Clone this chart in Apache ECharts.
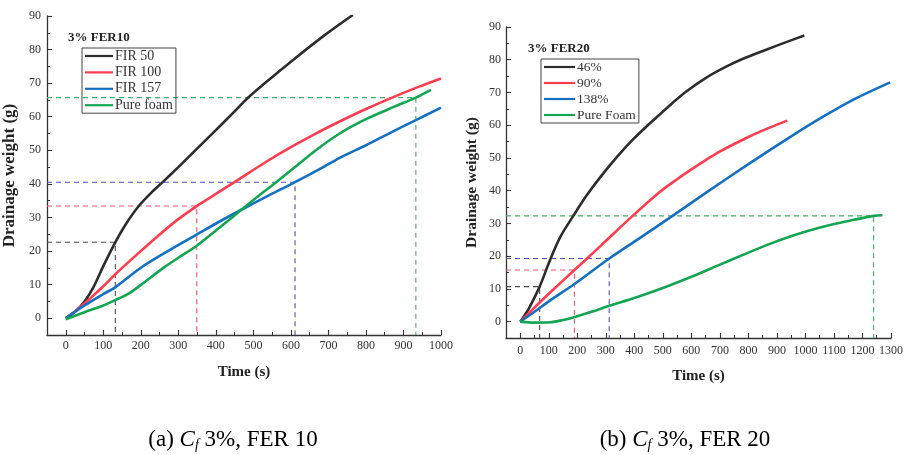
<!DOCTYPE html>
<html>
<head>
<meta charset="utf-8">
<script src="https://cdn.jsdelivr.net/npm/echarts@6/dist/echarts.min.js"></script>
<style>
  html, body { margin: 0; padding: 0; background: #fff; }
  #chart { width: 908px; height: 455px; }
</style>
</head>
<body>
<div id="chart"></div>
<script>
// ---- Panel (a): Cf 3%, FER 10 ----
const fir50Time  = [0, 25, 50, 75, 100, 132, 160, 193, 230, 259, 300, 350, 400, 450, 485, 540, 610, 690, 765];
const fir50W     = [0, 2, 5, 9.5, 15.5, 22.6, 28, 33.2, 37.6, 40.6, 45, 50.5, 56, 61.6, 65.6, 70.9, 77.3, 84.3, 90.3];
const fir100Time = [0, 30, 68, 100, 132, 200, 255, 300, 349, 400, 459, 530, 601, 670, 734, 800, 876, 940, 1000];
const fir100W    = [0, 2.5, 6.2, 9.5, 13.1, 20, 25.4, 29.5, 33.4, 37, 41.2, 46.3, 51, 55.2, 58.8, 62.3, 66, 68.9, 71.4];
const fir157Time = [0, 50, 100, 132, 201, 280, 349, 410, 468, 540, 611, 680, 734, 800, 870, 933, 1000];
const fir157W    = [0, 3.8, 7.2, 9.2, 15.1, 20.5, 24.9, 28.8, 32.3, 36.5, 40.5, 44.6, 48, 51.5, 55.5, 59, 62.7];
const foamATime  = [0, 50, 100, 132, 170, 201, 260, 300, 349, 410, 468, 520, 561, 611, 670, 734, 800, 876, 933, 973];
const foamAW     = [-0.3, 1.8, 3.8, 5.4, 7.5, 10, 15, 18, 21.6, 27, 32.3, 37, 40.5, 45, 50.3, 55.3, 59.3, 63, 65.7, 68];
const guideATime = [132, 349, 611, 933];
const guideAW    = [22.6, 33.4, 40.5, 65.7];
const namesA     = ['FIR 50', 'FIR 100', 'FIR 157', 'Pure foam'];

// ---- Panel (b): Cf 3%, FER 20 ----
const r46Time   = [0, 30, 68, 103, 140, 186, 230, 285, 340, 397, 450, 484, 530, 582, 650, 720, 781, 860, 930, 996];
const r46W      = [0, 4, 10.7, 18.5, 25.8, 32.3, 38.2, 44.6, 50.4, 55.8, 60.2, 62.9, 66.5, 70.3, 74.4, 77.8, 80.3, 83, 85.3, 87.4];
const r90Time   = [0, 50, 100, 190, 280, 394, 489, 550, 600, 699, 800, 870, 936];
const r90W      = [0, 4.3, 8.5, 15.75, 23, 32.3, 39.6, 43.5, 46.5, 51.9, 56.4, 59.1, 61.4];
const r138Time  = [0, 50, 100, 190, 312, 420, 534, 620, 699, 800, 932, 1050, 1170, 1297];
const r138W     = [0, 3, 6.2, 11.5, 19.3, 25.6, 32.3, 37.5, 42.2, 48.1, 55.6, 62, 67.9, 73.1];
const foamBTime = [0, 50, 105, 150, 186, 250, 315, 400, 495, 600, 700, 781, 880, 990, 1100, 1170, 1239, 1270];
const foamBW    = [0, -0.3, -0.2, 0.5, 1.3, 3, 4.9, 7.2, 10.1, 13.7, 17.4, 20.4, 23.9, 27.2, 29.8, 31.1, 32.3, 32.5];
const guideBTime = [68, 190, 312, 1239];
const guideBW    = [10.7, 15.75, 19.3, 32.3];
const namesB     = ['46%', '90%', '138%', 'Pure Foam'];

// ---- axis ticks ----
const xTicksA  = [0, 100, 200, 300, 400, 500, 600, 700, 800, 900, 1000];
const xMinorA  = [50, 150, 250, 350, 450, 550, 650, 750, 850, 950];
const xTicksB  = [0, 100, 200, 300, 400, 500, 600, 700, 800, 900, 1000, 1100, 1200, 1300];
const xMinorB  = [50, 150, 250, 350, 450, 550, 650, 750, 850, 950, 1050, 1150, 1250];
const yTicks   = [0, 10, 20, 30, 40, 50, 60, 70, 80, 90];
const yMinor   = [-5, 5, 15, 25, 35, 45, 55, 65, 75, 85];

const SERIF = '"Liberation Serif", "DejaVu Serif", serif';
const INK = '#333';
const lineColors  = ['#2d2d2d', '#ff3d4e', '#1470c0', '#13a652'];
const guideColors = ['#4a4a4a', '#ff4f72', '#5252ae', '#3fae66'];

const X_MIN = -50, Y_MIN = -5, Y_MAX = 90;

function pairs(t, w) { return t.map((x, i) => [x, w[i]]); }
const plain = v => String(v);

function mainX(grid, max, ticks, labelMargin, nameGap) {
  return {
    type: 'value', gridIndex: grid, min: X_MIN, max: max, position: 'bottom',
    name: 'Time (s)', nameLocation: 'middle', nameGap: nameGap,
    nameTextStyle: { fontFamily: SERIF, fontSize: 15, fontWeight: 'bold', color: '#222' },
    axisLine: { show: true, onZero: false, lineStyle: { color: INK, width: 1.3 } },
    axisTick: { show: true, inside: true, length: 5, customValues: ticks, lineStyle: { color: INK, width: 1.1 } },
    axisLabel: { customValues: ticks, formatter: plain, margin: labelMargin, fontFamily: SERIF, fontSize: 12, color: INK },
    splitLine: { show: false }
  };
}
function minorX(grid, max, ticks) {
  return {
    type: 'value', gridIndex: grid, min: X_MIN, max: max, position: 'bottom',
    axisLine: { show: false, onZero: false },
    axisTick: { show: true, inside: true, length: 3, customValues: ticks, lineStyle: { color: INK, width: 1 } },
    axisLabel: { show: false },
    splitLine: { show: false }
  };
}
function mainY(grid, nameSize, nameGap, labelMargin) {
  return {
    type: 'value', gridIndex: grid, min: Y_MIN, max: Y_MAX, position: 'left',
    name: 'Drainage weight (g)', nameLocation: 'middle', nameGap: nameGap,
    nameTextStyle: { fontFamily: SERIF, fontSize: nameSize, fontWeight: 'bold', color: '#222' },
    axisLine: { show: true, onZero: false, lineStyle: { color: INK, width: 1.3 } },
    axisTick: { show: true, inside: true, length: 5, customValues: yTicks, lineStyle: { color: INK, width: 1.1 } },
    axisLabel: { customValues: yTicks, formatter: plain, margin: labelMargin, fontFamily: SERIF, fontSize: 12, color: INK },
    splitLine: { show: false }
  };
}
function minorY(grid) {
  return {
    type: 'value', gridIndex: grid, min: Y_MIN, max: Y_MAX, position: 'left',
    axisLine: { show: false, onZero: false },
    axisTick: { show: true, inside: true, length: 3, customValues: yMinor, lineStyle: { color: INK, width: 1 } },
    axisLabel: { show: false },
    splitLine: { show: false }
  };
}

function curve(name, t, w, grid, color) {
  return {
    type: 'line', name: name, xAxisIndex: grid, yAxisIndex: grid,
    data: pairs(t, w), smooth: 0.3,
    symbol: 'none', showSymbol: false,
    lineStyle: { color: color, width: 2.6 }, itemStyle: { color: color },
    z: 3, silent: true
  };
}
function guides(times, weights, grid) {
  return times.map((t, i) => ({
    type: 'line', xAxisIndex: grid, yAxisIndex: grid,
    data: [[X_MIN, weights[i]], [t, weights[i]], [t, Y_MIN]],
    symbol: 'none', silent: true, z: 2,
    lineStyle: { color: guideColors[i], width: 1.1, type: [5, 4] }
  }));
}

const seriesA = [
  ...guides(guideATime, guideAW, 0),
  curve(namesA[0], fir50Time, fir50W, 0, lineColors[0]),
  curve(namesA[1], fir100Time, fir100W, 0, lineColors[1]),
  curve(namesA[2], fir157Time, fir157W, 0, lineColors[2]),
  curve(namesA[3], foamATime, foamAW, 0, lineColors[3])
];
const seriesB = [
  ...guides(guideBTime, guideBW, 1),
  curve(namesB[0], r46Time, r46W, 1, lineColors[0]),
  curve(namesB[1], r90Time, r90W, 1, lineColors[1]),
  curve(namesB[2], r138Time, r138W, 1, lineColors[2]),
  curve(namesB[3], foamBTime, foamBW, 1, lineColors[3])
];

function legendBox(names, left, top, itemWidth, fontSize, itemGap) {
  return {
    orient: 'vertical', left: left, top: top, data: names,
    icon: 'rect', itemWidth: itemWidth, itemHeight: 2.2, itemGap: itemGap,
    padding: [1, 3, 1, 3], borderColor: '#444', borderWidth: 1,
    selectedMode: false,
    textStyle: { fontFamily: SERIF, fontSize: fontSize, color: INK, lineHeight: 14, padding: [0, 0, 0, -3] }
  };
}

function caption(x, y, letter, fer) {
  return {
    type: 'text', x: x, y: y,
    style: {
      text: '{n|(' + letter + ') }{i|C}{s|f}{n| 3%, FER ' + fer + '}',
      align: 'center', verticalAlign: 'middle',
      rich: {
        n: { fontFamily: SERIF, fontSize: 23, color: '#111', lineHeight: 28 },
        i: { fontFamily: SERIF, fontSize: 23, fontStyle: 'italic', color: '#111', lineHeight: 28 },
        s: { fontFamily: SERIF, fontSize: 14, fontStyle: 'italic', color: '#111', lineHeight: 28, padding: [10, 0, 0, 0] }
      }
    }
  };
}

const chart = echarts.init(document.getElementById('chart'), null, { renderer: 'canvas' });
chart.setOption({
  backgroundColor: '#fff',
  animation: false,
  title: [
    { text: '3% FER10', left: 68, top: 31, padding: 0,
      textStyle: { fontFamily: SERIF, fontSize: 13, fontWeight: 'bold', color: '#222' } },
    { text: '3% FER20', left: 528, top: 42, padding: 0,
      textStyle: { fontFamily: SERIF, fontSize: 13, fontWeight: 'bold', color: '#222' } }
  ],
  legend: [
    legendBox(namesA, 82, 48, 28, 14, 2.4),
    legendBox(namesB, 541, 59, 31, 13.5, 2)
  ],
  grid: [
    { left: 46, top: 16, width: 395, height: 319 },
    { left: 506, top: 27, width: 385, height: 311 }
  ],
  xAxis: [
    mainX(0, 1000, xTicksA, 5, 30),
    mainX(1, 1300, xTicksB, 7, 31),
    minorX(0, 1000, xMinorA),
    minorX(1, 1300, xMinorB)
  ],
  yAxis: [
    mainY(0, 17, 29, 6),
    mainY(1, 15.5, 26, 5),
    minorY(0),
    minorY(1)
  ],
  graphic: [
    caption(233, 440, 'a', '10'),
    caption(685, 440, 'b', '20')
  ],
  series: [...seriesA, ...seriesB]
});
</script>
</body>
</html>
